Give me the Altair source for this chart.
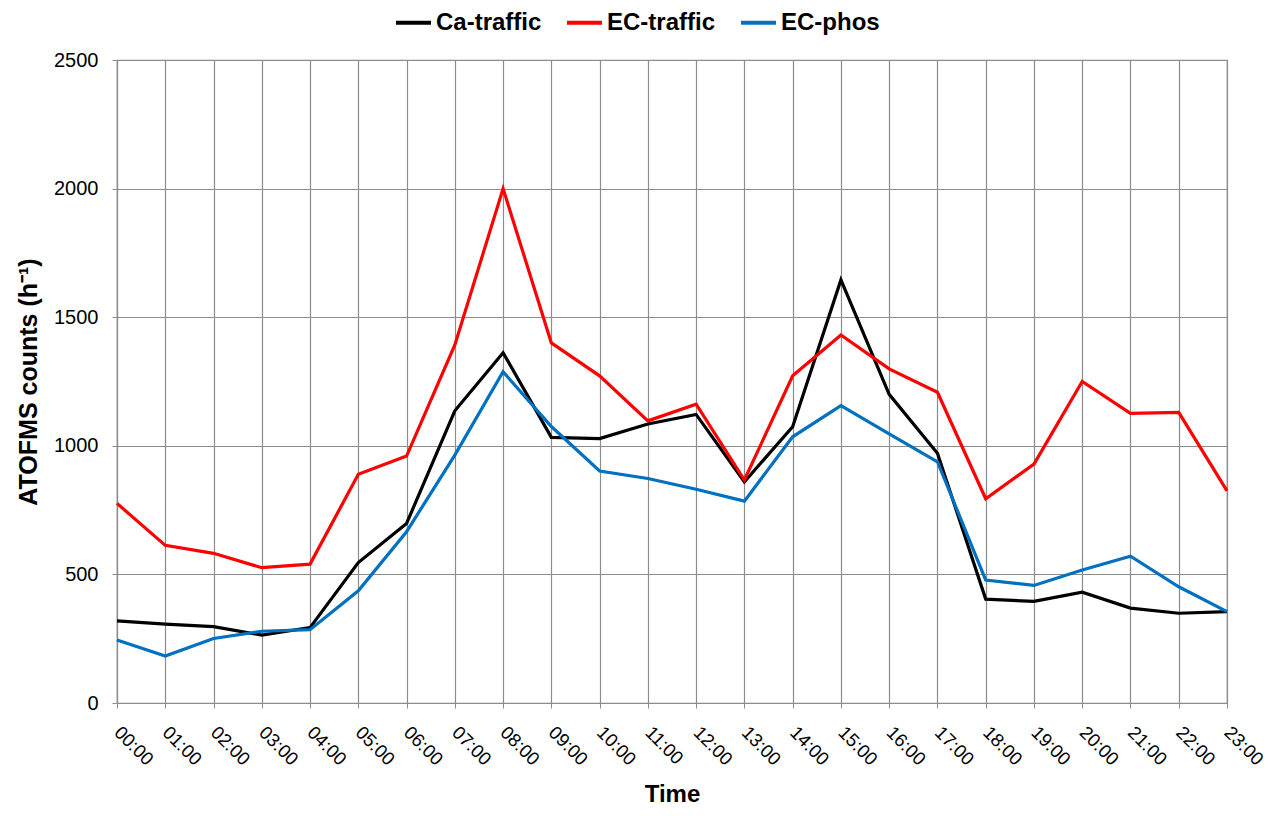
import altair as alt
import pandas as pd

hours = ["00:00", "01:00", "02:00", "03:00", "04:00", "05:00", "06:00", "07:00",
         "08:00", "09:00", "10:00", "11:00", "12:00", "13:00", "14:00", "15:00",
         "16:00", "17:00", "18:00", "19:00", "20:00", "21:00", "22:00", "23:00"]
series_names = ["Ca-traffic", "EC-traffic", "EC-phos"]
series_colors = ["#000000", "#FF0000", "#0070C0"]

ca_traffic = [319, 307, 297, 264, 293, 546, 698, 1136, 1362, 1033, 1028, 1085,
              1122, 860, 1074, 1645, 1200, 971, 404, 395, 431, 369, 349, 355]
ec_traffic = [776, 613, 582, 526, 540, 889, 960, 1392, 2000, 1400, 1272, 1097,
              1162, 867, 1272, 1431, 1299, 1208, 794, 929, 1250, 1126, 1130, 825]
ec_phos = [245, 183, 251, 279, 285, 436, 666, 964, 1288, 1075, 902, 873,
           831, 785, 1035, 1156, 1046, 938, 478, 457, 517, 571, 452, 355]
y_ticks = [0, 500, 1000, 1500, 2000, 2500]

rows = []
for k, (name, vals) in enumerate(zip(series_names, [ca_traffic, ec_traffic, ec_phos])):
    for h, v in zip(hours, vals):
        rows.append({"hour": h, "value": v, "series": name, "k": k})
df = pd.DataFrame(rows)

FONT = "Liberation Sans"
GRID = "#8c8c8c"

chart = alt.Chart(df).mark_line(strokeWidth=3.2).encode(
    x=alt.X("hour:N", sort=hours,
            scale=alt.Scale(type="point", padding=0),
            axis=alt.Axis(title="Time", labelAngle=45, labelAlign="left",
                          labelBaseline="middle", labelPadding=21,
                          labelFontSize=18.5, labelColor="black",
                          titleFontSize=24, titleFontWeight="bold", titleColor="black",
                          titlePadding=14,
                          grid=True, gridColor=GRID, gridWidth=1.2,
                          tickColor=GRID, tickSize=5, domainColor=GRID, domainWidth=1.2)),
    y=alt.Y("value:Q", scale=alt.Scale(domain=[0, 2500]),
            axis=alt.Axis(title="ATOFMS counts (h⁻¹)", values=y_ticks, format="d",
                          labelFontSize=20, labelColor="black", labelPadding=14,
                          titleFontSize=25, titleFontWeight="bold", titleColor="black",
                          titlePadding=12,
                          grid=True, gridColor=GRID, gridWidth=1.2,
                          tickColor=GRID, tickSize=5, domainColor=GRID, domainWidth=1.2)),
    color=alt.Color("series:N",
                    scale=alt.Scale(domain=series_names, range=series_colors),
                    sort=series_names,
                    legend=alt.Legend(title=None, orient="none", direction="horizontal",
                                      legendX=277, legendY=-57,
                                      symbolType="stroke", symbolSize=1225,
                                      symbolStrokeWidth=4, labelFontSize=24,
                                      labelFontWeight="bold", labelColor="black",
                                      labelOffset=3, columnPadding=17,
                                      labelLimit=300)),
    order=alt.Order("k:Q"),
).properties(
    width=1110, height=643,
    padding={"left": 109, "top": 52, "right": 41, "bottom": 105},
    autosize=alt.AutoSizeParams(type="none"),
).configure(font=FONT).configure_view(stroke=GRID, strokeWidth=1.2)

chart.save("out.html", embed_options={"renderer": "svg", "actions": False})
